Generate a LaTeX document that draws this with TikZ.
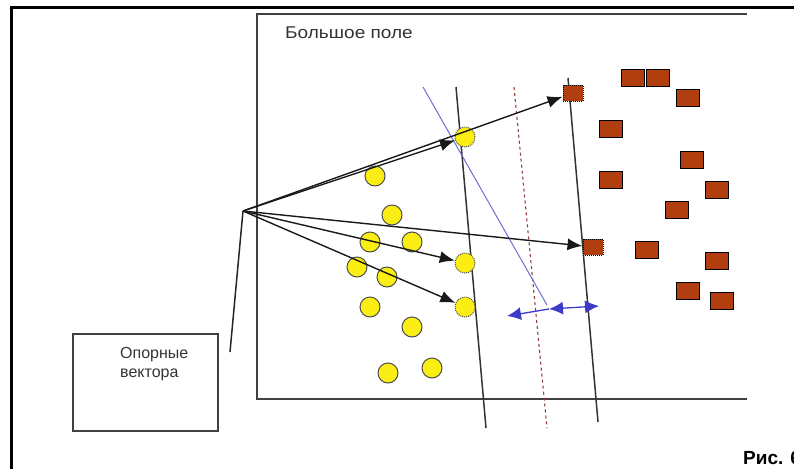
\documentclass[tikz,border=0pt]{standalone}
\usepackage{fontspec}
\setmainfont{Liberation Sans}
\usetikzlibrary{arrows.meta}
\definecolor{rust}{RGB}{176,62,14}
\definecolor{ball}{RGB}{250,238,20}
\definecolor{margin}{RGB}{150,60,60}
\definecolor{sep}{RGB}{60,60,200}

\begin{document}
\begin{tikzpicture}[x=1pt,y=-1pt]
\tikzstyle{dot}=[circle,draw=black!70,fill=ball,minimum size=20pt,inner sep=0pt,line width=1pt]
\tikzstyle{svdot}=[dot,densely dotted]
\tikzstyle{box}=[rectangle,draw=black,fill=rust,minimum width=23pt,minimum height=17pt,inner sep=0pt,line width=1pt]
\tikzstyle{svbox}=[box,densely dotted,minimum width=20pt,minimum height=16pt]
\tikzstyle{vec}=[-{Latex[length=15pt,width=12pt]},line width=1.4pt,black!90]
\tikzstyle{wid}=[sep,line width=1.3pt]
\clip (0,0) rectangle (794,469);
\useasboundingbox (0,0) rectangle (794,469);
% frames
\draw[line width=3pt] (11,469) -- (11,7) -- (794,7);
\draw[line width=1.8pt,black!75] (747,14) -- (257,14) -- (257,399) -- (747,399);
\node[anchor=base west,inner sep=0pt,font=\fontsize{17}{20}\selectfont,black!80] (title) at (285,38) {\scalebox{1.12}[1]{Большое поле}};
\draw[line width=1.5pt,black!75] (73,334) rectangle (218,431);
\node[anchor=base west,align=left,inner sep=0pt,font=\fontsize{16}{19}\selectfont,black!80] (note) at (120,377) {Опорные\\вектора};
\node[anchor=base west,inner sep=0pt,font=\bfseries\fontsize{19}{22}\selectfont] (fig) at (743,464) {Рис. 6};
% margins
\draw[line width=1.5pt,black!80] (456,87) -- (486,428);
\draw[line width=1.5pt,black!80] (568,78) -- (598,422);
\draw[line width=1.1pt,margin,dashed] (514,87) -- (547,428);
\draw[line width=1pt,sep!75] (423,87) -- (547,305);
% class 1
\node[dot] (1) at (375,176) {};
\node[dot] (2) at (392,215) {};
\node[dot] (3) at (370,242) {};
\node[dot] (4) at (412,242) {};
\node[dot] (5) at (357,267) {};
\node[dot] (6) at (387,277) {};
\node[dot] (7) at (370,307) {};
\node[dot] (8) at (412,327) {};
\node[dot] (9) at (388,373) {};
\node[dot] (10) at (432,368) {};
\node[svdot] (11) at (465,137) {};
\node[svdot] (12) at (465,263) {};
\node[svdot] (13) at (465,307) {};
% class 2
\node[box] (b1) at (633,78) {};
\node[box] (b2) at (658,78) {};
\node[box] (b3) at (688,98) {};
\node[box] (b4) at (611,129) {};
\node[box] (b5) at (692,160) {};
\node[box] (b6) at (611,180) {};
\node[box] (b7) at (717,190) {};
\node[box] (b8) at (677,210) {};
\node[box] (b9) at (647,250) {};
\node[box] (b10) at (717,261) {};
\node[box] (b11) at (688,291) {};
\node[box] (b12) at (722,301) {};
\node[svbox] (b13) at (573,93) {};
\node[svbox] (b14) at (593,247) {};
% support vectors
\coordinate (o) at (243,211);
\coordinate (foot) at (230,352);
\draw[line width=1.5pt,black!85] (foot) -- (o);
\draw[vec] (o) -- (b13);
\draw[vec] (o) -- (11);
\draw[vec] (o) -- (b14);
\draw[vec] (o) -- (12);
\draw[vec] (o) -- (13);
% width of the margin
\coordinate (wl) at (507,316);
\coordinate (wm) at (549,309);
\coordinate (wr) at (599,306);
\draw[wid,-{Latex[length=14pt,width=13pt]}] (wm) -- (wl);
\draw[wid,{Latex[length=14pt,width=13pt]}-{Latex[length=14pt,width=13pt]}] (wm) -- (wr);
\end{tikzpicture}
\end{document}
